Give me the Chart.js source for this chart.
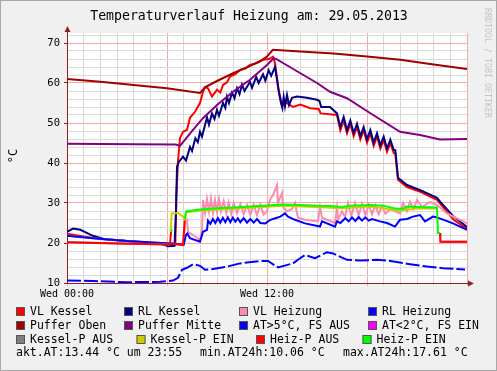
<!DOCTYPE html>
<html>
<head>
<meta charset="utf-8">
<script src="https://cdn.jsdelivr.net/npm/chart.js@4.4.1/dist/chart.umd.min.js"></script>
<style>
  html, body { margin: 0; padding: 0; background: #f0f0f0; }
  canvas { display: block; }
</style>
</head>
<body>
<canvas id="heizung" width="497" height="371"></canvas>
<script>
// time in hours (0 = Wed 00:00), value in °C
const vlKessel = [[0,22.3],[1,21.6],[2,21.0],[4,20.4],[5.5,19.9],[6.2,19.3],[6.5,19.5],[6.56,31.6],[6.66,40.5],[6.78,46.2],[6.96,47.8],[7.2,48.3],[7.38,51.3],[7.68,52.8],[7.98,55.0],[8.16,57.8],[8.28,59.0],[8.46,58.7],[8.7,56.6],[9.0,58.3],[9.2,57.6],[9.36,59.5],[9.6,60.2],[9.78,61.6],[10.1,62.2],[10.38,63.3],[10.7,63.6],[10.98,64.5],[11.4,65.0],[11.76,65.8],[12.1,66.0],[12.36,66.6],[12.48,65.0],[12.66,59.0],[12.9,54.5],[13.1,55.3],[13.56,54.0],[14.0,54.6],[14.6,53.7],[15.1,53.5],[15.22,52.4],[16.2,52.0],[16.4,48.2],[16.6,50.6],[16.8,47.4],[17.0,49.8],[17.2,46.7],[17.4,49.0],[17.6,45.9],[17.8,48.2],[18.0,45.1],[18.2,47.4],[18.4,44.3],[18.6,46.6],[18.8,43.6],[19.0,45.8],[19.2,42.8],[19.4,45.0],[19.6,42.5],[19.7,42.3],[19.86,35.8],[20.4,34.0],[21.2,32.8],[22.2,30.8],[22.4,29.8],[23.2,25.8],[24,23.5]];
const rlKessel = [[0,22.8],[0.36,23.6],[0.8,23.3],[1.56,21.8],[2.2,21.0],[3.6,20.5],[5.6,19.9],[6.06,19.2],[6.45,19.3],[6.54,28],[6.6,39.1],[6.7,40.2],[6.96,41.6],[7.14,40.6],[7.38,44.0],[7.5,43.0],[7.7,46.2],[7.85,45.2],[7.98,47.8],[8.1,46.6],[8.3,49.8],[8.4,51.4],[8.52,49.6],[8.7,52.4],[8.85,51.0],[9.0,53.3],[9.12,51.8],[9.36,55.0],[9.5,53.8],[9.6,56.6],[9.72,55.0],[9.9,57.6],[10.05,56.2],[10.2,58.7],[10.35,57.2],[10.5,59.6],[10.65,58.0],[10.98,60.3],[11.1,58.8],[11.35,61.5],[11.5,60.0],[11.76,62.2],[11.9,60.6],[12.1,63.2],[12.25,61.8],[12.48,64.0],[12.62,60.5],[12.72,57.5],[12.84,55.0],[12.92,53.8],[13.0,56.5],[13.08,54.2],[13.2,57.0],[13.32,54.5],[13.5,56.3],[13.8,56.6],[14.4,56.3],[15.0,55.8],[15.15,55.5],[15.25,54.0],[15.78,54.0],[16.2,52.4],[16.4,49.0],[16.6,51.5],[16.8,48.2],[17.0,50.6],[17.2,47.5],[17.4,49.8],[17.6,46.7],[17.8,49.0],[18.0,45.9],[18.2,48.2],[18.4,45.1],[18.6,47.4],[18.8,44.4],[19.0,46.6],[19.2,43.6],[19.4,45.8],[19.6,43.3],[19.7,43.2],[19.86,36.3],[20.4,34.5],[21.2,33.2],[22.2,31.3],[22.4,30.3],[23.2,26.6],[24,24.0]];
const vlHeizung = [[0,21.8],[1.56,21.2],[3.6,20.5],[6.2,19.9],[7.0,19.6],[7.08,25.6],[7.2,25.8],[7.26,22.8],[7.56,22.0],[7.98,20.8],[8.1,23.3],[8.16,30.8],[8.28,27.5],[8.4,31.0],[8.52,27.8],[8.64,31.2],[8.76,27.6],[8.88,30.8],[9.0,27.8],[9.12,31.0],[9.24,28.0],[9.4,30.5],[9.56,27.5],[9.7,30.2],[9.86,27.2],[10.0,30.0],[10.2,27.4],[10.4,29.8],[10.6,27.2],[10.8,29.5],[11.0,27.0],[11.2,29.6],[11.4,27.0],[11.6,29.6],[11.8,27.1],[12.0,28.0],[12.18,30.8],[12.36,32.0],[12.6,34.5],[12.66,30.0],[12.9,32.5],[12.96,29.0],[13.2,27.9],[13.5,28.5],[13.68,30.0],[13.86,26.3],[14.28,25.8],[15.06,25.4],[15.18,29.0],[15.3,26.3],[16.08,25.0],[16.2,28.8],[16.26,25.8],[16.5,27.9],[16.68,26.5],[16.86,30.0],[17.06,26.8],[17.28,30.0],[17.5,27.0],[17.7,29.8],[17.9,27.0],[18.1,29.6],[18.3,27.2],[18.5,29.4],[18.7,27.2],[18.9,29.2],[19.1,27.3],[19.4,28.5],[19.98,27.4],[20.16,30.0],[20.4,28.0],[20.58,30.3],[20.8,28.5],[21.0,30.8],[21.3,29.0],[21.78,30.3],[22.2,29.5],[22.8,27.4],[24,24.9]];
const rlHeizung = [[0,21.8],[1.56,21.2],[3.6,20.5],[6.2,19.9],[7.0,19.6],[7.14,22.0],[7.22,22.4],[7.38,21.2],[7.98,20.3],[8.16,22.8],[8.4,23.3],[8.46,25.6],[8.6,24.8],[8.75,26.0],[8.9,25.0],[9.05,26.2],[9.2,25.1],[9.35,26.3],[9.5,25.2],[9.65,26.4],[9.8,25.2],[9.95,26.3],[10.1,25.3],[10.25,26.2],[10.4,25.2],[10.6,26.2],[10.8,25.1],[11.0,26.0],[11.2,25.1],[11.4,26.0],[11.6,25.0],[11.9,24.9],[12.2,25.8],[12.5,26.2],[12.8,26.6],[13.08,27.4],[13.26,26.6],[13.68,25.8],[14.28,24.9],[15.18,24.1],[15.3,25.4],[16.08,24.1],[16.2,25.4],[16.4,25.0],[16.7,26.2],[16.9,25.4],[17.1,26.4],[17.3,25.5],[17.5,26.5],[17.7,25.6],[17.9,26.4],[18.1,25.6],[18.3,26.0],[18.78,25.4],[19.2,25.0],[19.68,24.1],[19.98,25.8],[20.4,26.0],[20.76,26.6],[21.18,27.0],[21.48,25.4],[21.96,26.6],[22.2,26.4],[23.16,24.9],[24,23.3]];
const pufferOben = [[0,61.0],[2,60.3],[4,59.5],[6,58.7],[7.98,57.5],[8.3,59.0],[9,60.5],[10,62.5],[11,64.3],[11.6,65.5],[12,66.6],[12.35,68.3],[14,67.9],[16,67.4],[18,66.6],[20,65.8],[22,64.6],[24,63.5]];
const pufferMitte = [[0,44.8],[4,44.7],[6.5,44.6],[6.78,44.3],[7.56,48.3],[8.16,51.2],[9.0,54.5],[9.96,57.8],[10.98,60.8],[12.0,64.5],[12.4,66.2],[12.6,65.9],[12.96,65.0],[13.98,62.5],[15.0,60.0],[15.78,57.8],[16.8,56.2],[18.18,52.5],[19.98,47.8],[21.18,47.0],[22.38,45.9],[24,46.0]];
const atWarm = [[0,10.6],[1.56,10.5],[3.6,10.2],[5.58,10.3],[6.36,10.6],[6.66,11.3],[6.9,13.3],[7.2,13.8],[7.56,14.7],[7.98,14.3],[8.28,13.3],[8.76,13.5],[9.6,14.1],[10.38,14.9],[11.58,15.5],[12.06,15.5],[12.66,13.9],[13.56,14.9],[13.98,16.2],[14.28,17.0],[14.88,16.2],[15.6,17.7],[15.96,17.4],[16.8,15.8],[17.58,15.6],[18.6,15.8],[19.26,15.6],[20.58,14.7],[21.6,14.1],[22.56,13.7],[23.88,13.4]];
const atCold = [];
const kesselAus = [[0,20.2],[6.18,19.6],[6.2,null],[22.4,20.3],[24,20.3]];
const kesselEin = [[6.22,22.8],[6.28,27.4],[6.66,27.5],[6.96,26.6],[7.08,25.8],[7.14,27.6],[7.98,28.1],[9.0,28.4],[10.98,28.8],[12.96,29.3],[15.0,29.0],[16.5,28.7],[18.18,29.1],[19.7,28.2],[20.16,28.2],[21.0,28.6],[22.2,28.6]];
const heizAus = [[0,20.2],[3,19.9],[6.18,19.6],[6.24,22.8],[6.26,null],[6.32,19.9],[6.96,19.5],[7.06,25.6],[7.1,null],[22.38,22.5],[22.4,20.3],[24,20.3]];
const heizEin = [[6.24,22.8],[6.3,23.4],[6.32,null],[7.08,26.0],[7.14,27.9],[7.6,28.2],[7.98,28.4],[9.0,28.7],[10.0,28.9],[10.98,29.1],[12.0,29.4],[12.96,29.6],[14.0,29.5],[15.0,29.3],[15.78,29.25],[16.5,29.0],[17.0,29.3],[18.18,29.5],[19.0,29.3],[19.7,28.6],[20.1,28.5],[20.4,29.1],[21.0,29.0],[22.2,28.9],[22.26,22.5],[22.38,22.5]];

const seriesLabels = ['VL Kessel', 'RL Kessel', 'VL Heizung', 'RL Heizung', 'Puffer Oben', 'Puffer Mitte',
  'AT>5°C, FS AUS', 'AT<2°C, FS EIN', 'Kessel-P AUS', 'Kessel-P EIN', 'Heiz-P AUS', 'Heiz-P EIN'];
const seriesData = [vlKessel, rlKessel, vlHeizung, rlHeizung, pufferOben, pufferMitte,
  atWarm, atCold, kesselAus, kesselEin, heizAus, heizEin];
const seriesColors = ['#ff0000', '#000080', '#ff8cb0', '#0000ff', '#a00000', '#800080',
  '#0000ff', '#ff00ff', '#808080', '#cccc00', '#ff0000', '#00ff00'];

const xLabelHours = [0, 12];
const xLabelTexts = ['Wed 00:00', 'Wed 12:00'];
const yLabelValues = [10, 20, 30, 40, 50, 60, 70];

const titleText = 'Temperaturverlauf Heizung am: 29.05.2013';
const footerTexts = ['akt.AT:13.44 °C um 23:55', 'min.AT24h:10.06 °C', 'max.AT24h:17.61 °C'];

const MONO = '"DejaVu Sans Mono", monospace';
const AXIS_COLOR = '#902020';

const datasets = seriesData.map((arr, i) => ({
  label: seriesLabels[i],
  data: arr.map(p => ({ x: p[0], y: p[1] })),
  borderColor: seriesColors[i],
  backgroundColor: seriesColors[i],
  borderWidth: 2,
  pointRadius: 0,
  tension: 0,
  fill: false,
  order: seriesData.length - 1 - i,
  borderDash: i === 6 ? [14, 3] : [],
}));

const rrdDecor = {
  id: 'rrdDecor',
  beforeDraw(chart) {
    const { ctx, chartArea: a } = chart;
    ctx.save();
    ctx.fillStyle = '#f0f0f0';
    ctx.fillRect(0, 0, chart.width, chart.height);
    ctx.fillStyle = '#ffffff';
    ctx.fillRect(a.left, a.top, a.right - a.left, a.bottom - a.top);
    ctx.restore();
  },
  afterDraw(chart) {
    const { ctx, chartArea: a } = chart;
    ctx.save();

    // axis extensions with arrows
    ctx.strokeStyle = AXIS_COLOR;
    ctx.fillStyle = AXIS_COLOR;
    ctx.lineWidth = 1;
    ctx.beginPath();
    ctx.moveTo(a.left + 0.5, a.top);
    ctx.lineTo(a.left + 0.5, a.top - 4);
    ctx.moveTo(a.right, a.bottom + 0.5);
    ctx.lineTo(a.right + 4, a.bottom + 0.5);
    ctx.stroke();
    ctx.beginPath();
    ctx.moveTo(a.left + 0.5, a.top - 7);
    ctx.lineTo(a.left - 2.5, a.top - 1);
    ctx.lineTo(a.left + 3.5, a.top - 1);
    ctx.closePath();
    ctx.fill();
    ctx.beginPath();
    ctx.moveTo(a.right + 7, a.bottom + 0.5);
    ctx.lineTo(a.right + 1, a.bottom - 2.5);
    ctx.lineTo(a.right + 1, a.bottom + 3.5);
    ctx.closePath();
    ctx.fill();

    // title
    ctx.fillStyle = '#000';
    ctx.textBaseline = 'middle';
    ctx.textAlign = 'center';
    ctx.font = '13.2px ' + MONO;
    ctx.fillText(titleText, 249, 17);

    // unit label
    ctx.save();
    ctx.translate(14, 156);
    ctx.rotate(-Math.PI / 2);
    ctx.font = '12px ' + MONO;
    ctx.fillText('°C', 0, 0);
    ctx.restore();

    // watermark
    ctx.save();
    ctx.translate(487, 8);
    ctx.rotate(Math.PI / 2);
    ctx.textAlign = 'left';
    ctx.fillStyle = '#c4c4c4';
    ctx.font = '8.3px ' + MONO;
    ctx.fillText('RRDTOOL / TOBI OETIKER', 0, 0);
    ctx.restore();

    // legend
    const rowY = [311.5, 325.5, 339.5];
    const colX = [[16, 124, 239, 368], [16, 124, 239, 368], [16, 136.5, 256, 362.5]];
    ctx.textAlign = 'left';
    ctx.font = '11.5px ' + MONO;
    chart.data.datasets.forEach((ds, i) => {
      const r = Math.floor(i / 4), c = i % 4;
      const x = colX[r][c], y = rowY[r];
      ctx.fillStyle = ds.borderColor;
      ctx.fillRect(x, y - 4.5, 9, 9);
      ctx.strokeStyle = '#555';
      ctx.strokeRect(x + 0.5, y - 4, 8, 8);
      ctx.fillStyle = '#000';
      ctx.fillText(ds.label, x + 14, y + 0.5);
    });
    const footX = [16, 200, 343];
    footerTexts.forEach((t, i) => ctx.fillText(t, footX[i], 353));

    // frame
    ctx.strokeStyle = '#a8a8a8';
    ctx.strokeRect(0.5, 0.5, chart.width - 1, chart.height - 1);
    ctx.restore();
  }
};

new Chart(document.getElementById('heizung').getContext('2d'), {
  type: 'line',
  data: { datasets: datasets },
  options: {
    responsive: false,
    animation: false,
    devicePixelRatio: 1,
    layout: { padding: { left: 47, right: 30, top: 33, bottom: 68 } },
    plugins: { legend: { display: false }, title: { display: false }, tooltip: { enabled: false } },
    scales: {
      x: {
        type: 'linear',
        min: 0,
        max: 24,
        afterFit: s => { s.height = 20; },
        afterBuildTicks: s => {
          const t = [];
          for (let h = 0; h <= 24; h++) t.push({ value: h });
          s.ticks = t;
        },
        ticks: {
          autoSkip: false,
          maxRotation: 0,
          padding: 2,
          color: '#000',
          font: { family: MONO, size: 10 },
          callback: v => {
            const k = xLabelHours.indexOf(v);
            return k >= 0 ? xLabelTexts[k] : '';
          }
        },
        grid: {
          color: c => (c.tick && c.tick.value % 6 === 0) ? '#f2aaaa' : '#dadada',
          tickColor: c => (c.tick && c.tick.value % 6 === 0) ? '#f2aaaa' : '#dadada',
          tickLength: 3,
          lineWidth: 1
        },
        border: { color: AXIS_COLOR, width: 1 }
      },
      y: {
        type: 'linear',
        min: 10,
        max: 72.5,
        afterFit: s => { s.width = 20; },
        afterBuildTicks: s => {
          const t = [];
          for (let v = 10; v <= 72; v += 2) t.push({ value: v });
          s.ticks = t;
        },
        ticks: {
          autoSkip: false,
          padding: 4,
          color: '#000',
          font: { family: MONO, size: 10.5 },
          callback: v => yLabelValues.includes(v) ? String(v) : ''
        },
        grid: {
          color: c => (c.tick && c.tick.value % 10 === 0) ? '#f2aaaa' : '#dadada',
          tickColor: c => (c.tick && c.tick.value % 10 === 0) ? AXIS_COLOR : 'rgba(0,0,0,0)',
          tickLength: 3,
          lineWidth: 1
        },
        border: { color: AXIS_COLOR, width: 1 }
      }
    }
  },
  plugins: [rrdDecor]
});
</script>
</body>
</html>
